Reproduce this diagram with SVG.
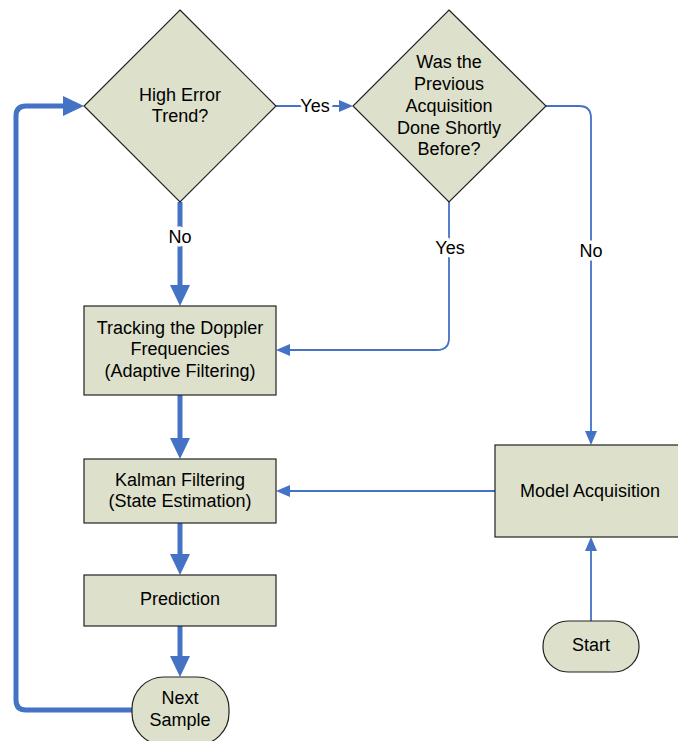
<svg xmlns="http://www.w3.org/2000/svg" width="678" height="741" viewBox="0 0 678 741">
<style>
.n{fill:#dde0cb;stroke:#222;stroke-width:1.2}
.t{font-family:"Liberation Sans",Arial,sans-serif;font-size:18px;fill:#000;text-anchor:middle}
.lb{font-family:"Liberation Sans",Arial,sans-serif;font-size:18px;fill:#000;text-anchor:middle;stroke:#fff;stroke-width:7;paint-order:stroke;stroke-linejoin:round}
.thin{fill:none;stroke:#4472c4;stroke-width:1.8;marker-end:url(#ah)}
.thick{fill:none;stroke:#4472c4;stroke-width:5;marker-end:url(#ahb)}
</style>
<defs>
<marker id="ah" markerUnits="userSpaceOnUse" markerWidth="14" markerHeight="12" refX="8" refY="6" orient="auto"><path d="M0,0 L14,6 L0,12 z" fill="#4472c4"/></marker>
<marker id="ahb" markerUnits="userSpaceOnUse" markerWidth="21" markerHeight="20" refX="11" refY="10" orient="auto"><path d="M0,0 L21,10 L0,20 z" fill="#4472c4"/></marker>
</defs>
<g id="connectors">
<path class="thin" d="M276,106 H347"/>
<path class="thin" d="M449,202 V338 Q449,350 437,350 H282"/>
<path class="thin" d="M546,106 H579 Q591,106 591,118 V439"/>
<path class="thin" d="M495,491 H282"/>
<path class="thin" d="M591,621 V543"/>
<path class="thick" d="M180,202 V296"/>
<path class="thick" d="M180,395 V449"/>
<path class="thick" d="M180,523 V565"/>
<path class="thick" d="M180,626 V667"/>
<path class="thick" d="M132,710 H26 Q16,710 16,700 V116 Q16,106 26,106 H74"/>
<text class="lb" x="315" y="112">Yes</text>
<text class="lb" x="180" y="243">No</text>
<text class="lb" x="450" y="254">Yes</text>
<text class="lb" x="591" y="257">No</text>
</g>
<g id="high-error">
<polygon class="n" points="180,10 276,106 180,202 84,106"/>
<text class="t" x="180" y="101">High Error</text>
<text class="t" x="180" y="122">Trend?</text>
</g>
<g id="prev-acq">
<polygon class="n" points="449,10 546,106 449,202 353,106"/>
<text class="t" x="449" y="68">Was the</text>
<text class="t" x="449" y="89.5">Previous</text>
<text class="t" x="449" y="112">Acquisition</text>
<text class="t" x="449" y="134">Done Shortly</text>
<text class="t" x="449" y="155">Before?</text>
</g>
<g id="tracking">
<rect class="n" x="84" y="306" width="192" height="89"/>
<text class="t" x="180" y="333.5">Tracking the Doppler</text>
<text class="t" x="180" y="355">Frequencies</text>
<text class="t" x="180" y="377">(Adaptive Filtering)</text>
</g>
<g id="kalman">
<rect class="n" x="84" y="459" width="192" height="64"/>
<text class="t" x="180" y="486">Kalman Filtering</text>
<text class="t" x="180" y="507">(State Estimation)</text>
</g>
<g id="prediction">
<rect class="n" x="84" y="575" width="192" height="51"/>
<text class="t" x="180" y="605">Prediction</text>
</g>
<g id="next-sample">
<rect class="n" x="132" y="677" width="97" height="68" rx="32" ry="32"/>
<text class="t" x="180" y="704">Next</text>
<text class="t" x="180" y="726">Sample</text>
</g>
<g id="model-acq">
<rect class="n" x="495" y="445" width="184" height="92"/>
<text class="t" x="590" y="497">Model Acquisition</text>
</g>
<g id="start">
<rect class="n" x="543" y="621" width="96" height="51" rx="25" ry="25"/>
<text class="t" x="591" y="651">Start</text>
</g>
</svg>
